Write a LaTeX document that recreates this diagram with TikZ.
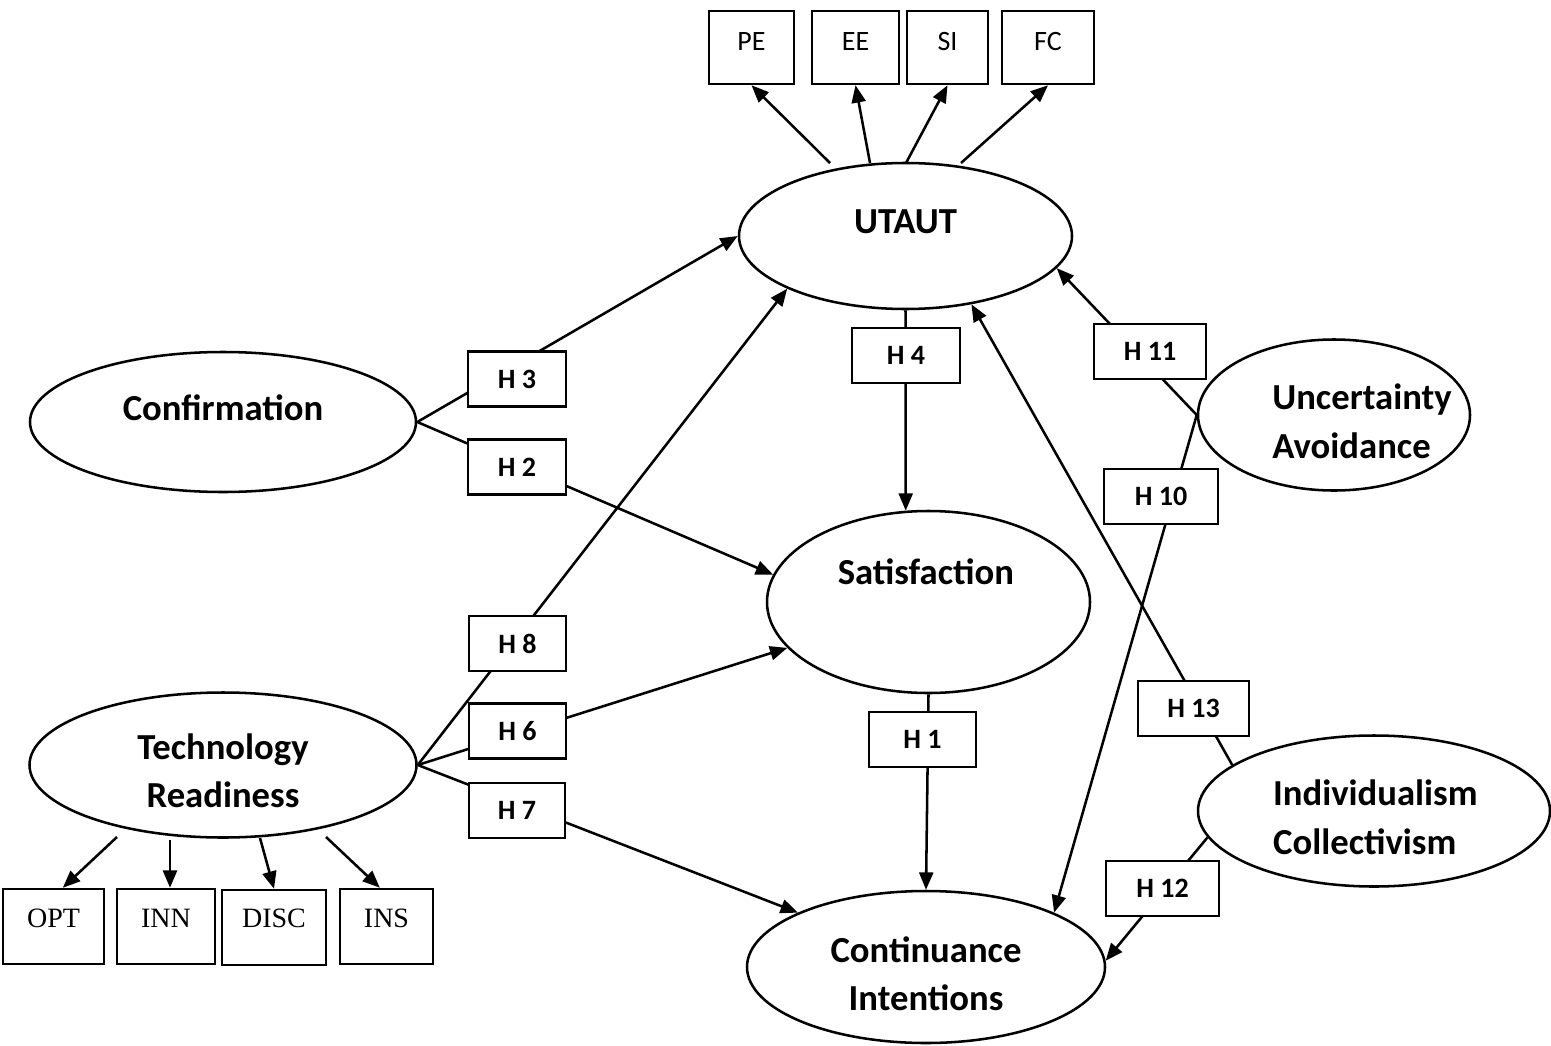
\documentclass[tikz,border=0pt]{standalone}
\usepackage{fontspec}
\setmainfont{Carlito}
\newfontfamily\serifbox{Liberation Serif}
\usetikzlibrary{arrows.meta,shapes.geometric}

\begin{document}
\begin{tikzpicture}[x=0.75pt,y=-0.75pt,line width=1.9pt,
  construct/.style={ellipse,draw,inner sep=0pt},
  lbl/.style={font=\fontsize{27.5}{36}\selectfont\bfseries,align=center,inner sep=0pt},
  lbll/.style={font=\fontsize{27.5}{37}\selectfont\bfseries,align=left,inner sep=0pt},
  hyp/.style={draw,fill=white,inner sep=0pt,minimum height=41pt,
    font=\fontsize{21}{25}\selectfont\bfseries},
  ind/.style={draw,inner sep=0pt,minimum height=54.75pt,
    font=\fontsize{21}{24}\selectfont,text height=13.5pt,text depth=9.5pt},
  trind/.style={draw,inner sep=0pt,minimum height=56.25pt,
    font=\serifbox\fontsize{21}{25}\selectfont,text height=14pt,text depth=12pt},
  link/.style={-{Triangle[length=13pt,width=10.5pt]}}
]
\path[use as bounding box] (0,0) rectangle (1551,1045);

% constructs
\node[construct,minimum width=249.75pt,minimum height=109.5pt,
  label={[lbl,yshift=11pt]center:UTAUT}] (utaut) at (905.5,236) {};
\node[construct,minimum width=289.5pt,minimum height=105pt,
  label={[lbl,yshift=10.5pt]center:Confirmation}] (conf) at (223,422) {};
\node[construct,minimum width=242.25pt,minimum height=136.5pt,
  label={[lbl,yshift=22.5pt,xshift=-2pt]center:Satisfaction}] (sat) at (928.5,602) {};
\node[construct,minimum width=290.25pt,minimum height=108.75pt,
  label={[lbl,yshift=-4pt]center:Technology\\Readiness}] (tr) at (223,765) {};
\node[construct,minimum width=268.5pt,minimum height=114pt,
  label={[lbl,yshift=-5pt]center:Continuance\\Intentions}] (ci) at (926,967) {};
\node[construct,minimum width=204pt,minimum height=113.25pt,
  label={[lbll,xshift=21pt,yshift=-4.5pt]center:Uncertainty\\Avoidance}] (ua) at (1334,415) {};
\node[construct,minimum width=264pt,minimum height=113.25pt,
  label={[lbll,xshift=1pt,yshift=-4.5pt]center:Individualism\\Collectivism}] (ic) at (1374,811) {};

% hypothesised paths
\draw[link] (conf.east) -- (utaut.west);
\draw[link] (conf.east) -- (sat.170);
\draw[link] (tr.east) -- (utaut.204);
\draw[link] (tr.east) -- (sat.198);
\draw[link] (tr.east) -- (ci.157.5);
\draw[link] (utaut.south) -- (sat.104);
\draw[link] (sat.south) -- (ci.north);
\draw[link] (ua.west) -- (utaut.-12);
\draw[link] (ua.west) -- (ci.23);
\draw[link] (ic.162) -- (utaut.-46);
\draw[link] (ic.189) -- (ci.2);

% hypothesis labels sitting on the paths
\node[hyp,minimum width=73.5pt] (h3) at (517,379) {H 3};
\node[hyp,minimum width=73.5pt] (h2) at (517,467) {H 2};
\node[hyp,minimum width=72.75pt] (h8) at (517.5,643.5) {H 8};
\node[hyp,minimum width=72.75pt] (h6) at (517.5,731) {H 6};
\node[hyp,minimum width=72pt] (h7) at (517,810.5) {H 7};
\node[hyp,minimum width=81pt] (h4) at (906,355.5) {H 4};
\node[hyp,minimum width=80.25pt] (h1) at (922.5,739.5) {H 1};
\node[hyp,minimum width=84pt] (h11) at (1150,351.5) {H 11};
\node[hyp,minimum width=85.5pt] (h10) at (1161,496.5) {H 10};
\node[hyp,minimum width=83.25pt] (h13) at (1193.5,708.5) {H 13};
\node[hyp,minimum width=84.75pt] (h12) at (1162.5,888.5) {H 12};

% UTAUT indicators
\node[ind,minimum width=63.75pt] (pe) at (751.5,47.5) {PE};
\node[ind,minimum width=65.25pt] (ee) at (855.5,47.5) {EE};
\node[ind,minimum width=60.75pt] (si) at (947.5,47.5) {SI};
\node[ind,minimum width=69pt] (fc) at (1048,47.5) {FC};
\coordinate (u1) at (830,163);
\coordinate (u2) at (870,163);
\coordinate (u3) at (906,163);
\coordinate (u4) at (961,163);
\draw[link] (u1) -- (pe.south);
\draw[link] (u2) -- (ee.south);
\draw[link] (u3) -- (si.south);
\draw[link] (u4) -- (fc.south);

% technology readiness indicators
\node[trind,minimum width=75.75pt] (opt) at (53.5,926.5) {OPT};
\node[trind,minimum width=73.5pt] (inn) at (166,926.5) {INN};
\node[trind,minimum width=78pt,text depth=13.5pt] (disc) at (274,927.5) {DISC};
\node[trind,minimum width=69.75pt] (ins) at (386.5,926.5) {INS};
\coordinate (r1) at (117,837);
\coordinate (r2) at (170,840);
\coordinate (r3) at (260,838);
\coordinate (r4) at (326,837);
\draw[link] (r1) -- ([xshift=7pt]opt.north);
\draw[link] (r2) -- ([xshift=3pt]inn.north);
\draw[link] (r3) -- (disc.north);
\draw[link] (r4) -- ([xshift=-5pt]ins.north);
\end{tikzpicture}
\end{document}
